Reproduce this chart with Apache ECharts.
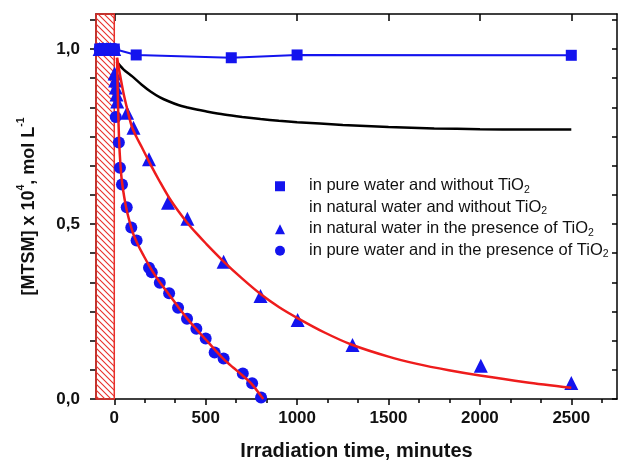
<!DOCTYPE html>
<html>
<head>
<meta charset="utf-8">
<script src="https://cdn.jsdelivr.net/npm/echarts@6/dist/echarts.min.js"></script>
<style>
html,body{margin:0;padding:0;background:#fff;}
#c{width:619px;height:466px;}
</style>
</head>
<body>
<div id="c"></div>
<script>
// ---- data ----
const squareT = [-80, -60, -40, -20, 0, 120, 640, 1000, 2500];
const squareV = [1.0, 1.0, 1.0, 1.0, 1.0, 0.983, 0.975, 0.983, 0.982];

const blackT = [13, 50, 100, 150, 200, 250, 300, 350, 400, 450, 500, 600, 700, 800, 900, 1000, 1250, 1500, 1750, 2000, 2250, 2500];
const blackV = [0.964, 0.942, 0.921, 0.898, 0.878, 0.862, 0.850, 0.840, 0.833, 0.827, 0.822, 0.813, 0.806, 0.800, 0.795, 0.791, 0.783, 0.777, 0.773, 0.771, 0.770, 0.770];

const triT = [-80, -60, -40, -20, 0, 2, 5, 8, 12, 16, 70, 105, 190, 294, 400, 598, 800, 1003, 1303, 2005, 2500];
const triV = [1, 1, 1, 1, 1, 0.93, 0.91, 0.89, 0.87, 0.85, 0.818, 0.775, 0.685, 0.561, 0.515, 0.392, 0.294, 0.226, 0.154, 0.095, 0.046];

const circT = [-80, -60, -40, -20, 0, 8, 25, 31, 42, 68, 93, 122, 190, 205, 249, 300, 349, 398, 449, 500, 549, 598, 703, 754, 803];
const circV = [1, 1, 1, 1, 1, 0.806, 0.733, 0.661, 0.613, 0.548, 0.49, 0.453, 0.375, 0.362, 0.332, 0.302, 0.261, 0.229, 0.201, 0.173, 0.133, 0.116, 0.073, 0.045, 0.004];

const fitTriT = [15, 30, 50, 70, 95, 120, 150, 200, 250, 300, 350, 400, 450, 500, 600, 700, 800, 900, 1000, 1150, 1300, 1500, 1650, 1830, 2000, 2250, 2500];
const fitTriV = [0.975, 0.93, 0.875, 0.83, 0.78, 0.75, 0.72, 0.668, 0.62, 0.575, 0.537, 0.503, 0.473, 0.445, 0.392, 0.344, 0.300, 0.263, 0.232, 0.19, 0.155, 0.121, 0.101, 0.082, 0.067, 0.048, 0.032];

const fitCircT = [15, 18, 21, 25, 30, 40, 55, 70, 90, 105, 130, 160, 190, 220, 250, 300, 350, 400, 450, 500, 550, 600, 650, 700, 750, 815];
const fitCircV = [0.975, 0.90, 0.83, 0.76, 0.70, 0.63, 0.575, 0.535, 0.495, 0.47, 0.44, 0.41, 0.382, 0.356, 0.333, 0.298, 0.263, 0.229, 0.199, 0.170, 0.141, 0.113, 0.09, 0.068, 0.044, 0.0];

const darkPeriod = [-100, 0];

const xMajor = [0, 500, 1000, 1500, 2000, 2500];
const xMinor = [166.67, 333.33, 666.67, 833.33, 1166.67, 1333.33, 1666.67, 1833.33, 2166.67, 2333.33, 2666.67];
const yLabels = [0, 0.5, 1.0];
const yTicks = [0, 1/12, 2/12, 3/12, 4/12, 5/12, 6/12, 7/12, 8/12, 9/12, 10/12, 11/12, 1, 13/12];

const names = [
  'in pure water and without TiO2',
  'in natural water and without TiO2',
  'in natural water in the presence of TiO2',
  'in pure water and in the presence of TiO2'
];

// ---- helpers ----
function zip(a, b) { return a.map((v, i) => [v, b[i]]); }

function hatchPattern() {
  const s = 6;
  const cv = document.createElement('canvas');
  cv.width = s; cv.height = s;
  const ctx = cv.getContext('2d');
  ctx.strokeStyle = '#e8302a';
  ctx.lineWidth = 1.1;
  ctx.beginPath();
  ctx.moveTo(-1, -1); ctx.lineTo(s + 1, s + 1);
  ctx.moveTo(-1, s - 1); ctx.lineTo(1, s + 1);
  ctx.moveTo(s - 1, -1); ctx.lineTo(s + 1, 1);
  ctx.stroke();
  return { image: cv, repeat: 'repeat' };
}

const FONT = "'Liberation Sans', Arial, sans-serif";
const BLUE = '#1414ee';
const RED = '#ee1c1c';
const X_MIN = -100, X_MAX = 2750, Y_MIN = 0, Y_MAX = 1.1;

const chart = echarts.init(document.getElementById('c'), null, { renderer: 'canvas' });

const baseX = {
  type: 'value', min: X_MIN, max: X_MAX, gridIndex: 0,
  splitLine: { show: false },
  axisLine: { show: false },
  axisLabel: { show: false },
  axisTick: { show: false }
};
const baseY = {
  type: 'value', min: Y_MIN, max: Y_MAX, gridIndex: 0,
  splitLine: { show: false },
  axisLine: { show: false },
  axisLabel: { show: false },
  axisTick: { show: false }
};
const lineStyleAxis = { color: '#000', width: 1.5 };

const option = {
  animation: false,
  backgroundColor: '#fff',
  grid: { left: 96, right: 2, top: 14, bottom: 65, containLabel: false },
  legend: {
    orient: 'vertical',
    left: 275, top: 177,
    padding: 0,
    itemGap: 3,
    itemWidth: 10, itemHeight: 10,
    selectedMode: false,
    data: [
      { name: names[0], icon: 'rect' },
      { name: names[1], icon: 'none' },
      { name: names[2], icon: 'triangle' },
      { name: names[3], icon: 'circle' }
    ],
    formatter: function (n) {
      return '{g| }{t|' + n.slice(0, -1) + '}{s|' + n.slice(-1) + '}';
    },
    textStyle: {
      fontFamily: FONT,
      color: '#111',
      rich: {
        g: { width: 19, fontSize: 16, lineHeight: 18.5, verticalAlign: 'top' },
        t: { fontSize: 16.5, lineHeight: 18.5, fontFamily: FONT, color: '#111', verticalAlign: 'top' },
        s: { fontSize: 10.5, lineHeight: 9, fontFamily: FONT, color: '#111', verticalAlign: 'bottom' }
      }
    }
  },
  xAxis: [
    Object.assign({}, baseX, {
      position: 'bottom',
      axisLine: { show: true, onZero: false, lineStyle: lineStyleAxis },
      axisTick: { show: true, inside: false, length: 6, lineStyle: { width: 1.5, color: '#000' }, customValues: xMajor },
      axisLabel: { show: true, customValues: xMajor, margin: 11, fontFamily: FONT, fontWeight: 'bold', fontSize: 17, color: '#111',
        formatter: v => String(Math.round(v)) },
      name: 'Irradiation time, minutes',
      nameLocation: 'middle',
      nameGap: 42,
      nameTextStyle: { fontFamily: FONT, fontWeight: 'bold', fontSize: 20, color: '#111' }
    }),
    Object.assign({}, baseX, {
      position: 'bottom',
      axisTick: { show: true, inside: false, length: 4, lineStyle: { width: 1.5, color: '#000' }, customValues: xMinor }
    }),
    Object.assign({}, baseX, {
      position: 'top',
      axisLine: { show: true, onZero: false, lineStyle: lineStyleAxis },
      axisTick: { show: true, inside: true, length: 7, lineStyle: { width: 1.5, color: '#000' }, customValues: xMajor }
    }),
    Object.assign({}, baseX, {
      position: 'top',
      axisTick: { show: true, inside: true, length: 3, lineStyle: { width: 1.5, color: '#000' }, customValues: xMinor }
    })
  ],
  yAxis: [
    Object.assign({}, baseY, {
      position: 'left',
      axisLine: { show: true, onZero: false, lineStyle: lineStyleAxis },
      axisTick: { show: true, inside: false, length: 6, lineStyle: { width: 1.5, color: '#000' }, customValues: yTicks },
      axisLabel: {
        show: true, customValues: yLabels, margin: 16,
        fontFamily: FONT, fontWeight: 'bold', fontSize: 17, color: '#111',
        formatter: v => v.toFixed(1).replace('.', ',')
      },
      name: '{b|[MTSM] x 10}{p|4}{b|, mol L}{p|-1}',
      nameLocation: 'middle',
      nameGap: 58,
      nameRotate: 90,
      nameTextStyle: {
        fontFamily: FONT, fontWeight: 'bold', fontSize: 18, color: '#111',
        rich: {
          b: { fontFamily: FONT, fontWeight: 'bold', fontSize: 18, color: '#111', lineHeight: 22, verticalAlign: 'bottom' },
          p: { fontFamily: FONT, fontWeight: 'bold', fontSize: 10.5, color: '#111', lineHeight: 14, verticalAlign: 'top' }
        }
      }
    }),
    Object.assign({}, baseY, {
      position: 'right',
      axisLine: { show: true, onZero: false, lineStyle: lineStyleAxis },
      axisTick: { show: true, inside: true, length: 5, lineStyle: { width: 1.5, color: '#000' }, customValues: yTicks }
    })
  ],
  series: [
    {
      name: names[0], type: 'line', xAxisIndex: 0, yAxisIndex: 0,
      data: zip(squareT, squareV),
      symbol: 'rect', symbolSize: 11, showAllSymbol: true,
      color: BLUE,
      lineStyle: { color: BLUE, width: 2 },
      itemStyle: { color: BLUE },
      z: 2
    },
    {
      name: names[1], type: 'line', xAxisIndex: 0, yAxisIndex: 0,
      data: zip(blackT, blackV),
      symbol: 'none', smooth: 0.3,
      color: '#000',
      lineStyle: { color: '#000', width: 2.5 },
      z: 2
    },
    {
      name: names[2], type: 'scatter', xAxisIndex: 0, yAxisIndex: 0,
      data: zip(triT, triV),
      symbol: 'triangle', symbolSize: 14,
      color: BLUE, itemStyle: { color: BLUE, opacity: 1 },
      z: 3
    },
    {
      name: names[3], type: 'scatter', xAxisIndex: 0, yAxisIndex: 0,
      data: zip(circT, circV),
      symbol: 'circle', symbolSize: 12,
      color: BLUE, itemStyle: { color: BLUE, opacity: 1 },
      z: 3
    },
    {
      name: 'fit natural TiO2', type: 'line', xAxisIndex: 0, yAxisIndex: 0,
      data: zip(fitTriT, fitTriV),
      symbol: 'none', smooth: 0.3,
      lineStyle: { color: RED, width: 2.5 },
      z: 4
    },
    {
      name: 'fit pure TiO2', type: 'line', xAxisIndex: 0, yAxisIndex: 0,
      data: zip(fitCircT, fitCircV),
      symbol: 'none', smooth: 0.3,
      lineStyle: { color: RED, width: 2.5 },
      z: 4
    },
    {
      name: 'dark period', type: 'line', xAxisIndex: 0, yAxisIndex: 0,
      data: [],
      z: 5,
      markArea: {
        silent: true,
        itemStyle: { color: hatchPattern(), borderColor: '#e8302a', borderWidth: 1.5 },
        data: [[{ xAxis: darkPeriod[0], yAxis: Y_MIN }, { xAxis: darkPeriod[1], yAxis: Y_MAX }]]
      }
    }
  ]
};
chart.setOption(option);
</script>
</body>
</html>
